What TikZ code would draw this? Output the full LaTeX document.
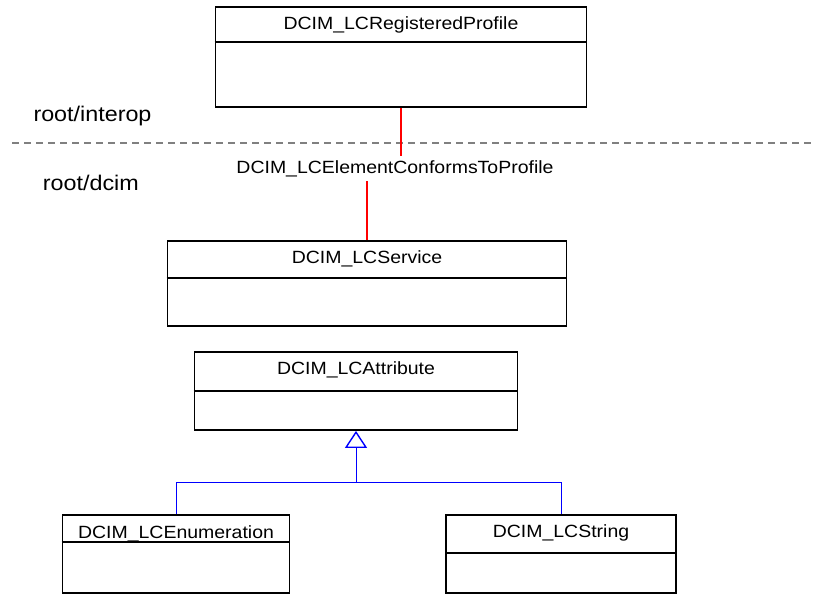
\documentclass[tikz,border=0pt]{standalone}
\usepackage{fontspec}
\setmainfont{Liberation Sans}[FakeStretch=1.1]
\tikzset{>=stealth}
\usetikzlibrary{arrows.meta}
\usetikzlibrary{positioning}

\begin{document}
\begin{tikzpicture}[x=1pt,y=-1pt,
		classbox/.style={draw,line width=1.8pt,inner sep=0pt},
		classname/.style={anchor=base,inner sep=0pt,font=\fontsize{17.7}{21}\selectfont},
		nslabel/.style={anchor=base west,inner sep=0pt,font=\fontsize{21.2}{25}\selectfont},
		assocline/.style={draw=red,line width=2.2pt},
		genline/.style={draw=blue,line width=1pt}]
				\useasboundingbox (0,0) rectangle (816,595);
				% namespaces
				\draw[gray,line width=1.3pt,dash pattern=on 7pt off 5pt] (12,143) -- (816,143);
				\node[nslabel] (interop) at (33.3,121) {root/interop};
				\node[nslabel] (dcim) at (42.7,190.5) {root/dcim};
				% classes
				\node[classbox,minimum width=371pt,minimum height=100pt] (profile) at (401,57) {};
				\draw[line width=1.8pt] (profile.west |- 0,42) -- (profile.east |- 0,42);
				\node[classname] (profile-t) at ([yshift=-23pt]profile.north) {DCIM\_LCRegisteredProfile};
				\node[classbox,minimum width=399pt,minimum height=85pt] (service) at (367,283.5) {};
				\draw[line width=1.8pt] (service.west |- 0,278) -- (service.east |- 0,278);
				\node[classname] (service-t) at ([yshift=-23pt]service.north) {DCIM\_LCService};
				\node[classbox,minimum width=323pt,minimum height=78pt] (attribute) at (356,391) {};
				\draw[line width=1.8pt] (attribute.west |- 0,391) -- (attribute.east |- 0,391);
				\node[classname] (attribute-t) at ([yshift=-23pt]attribute.north) {DCIM\_LCAttribute};
				\node[classbox,minimum width=227pt,minimum height=78pt] (enumeration) at (176,554) {};
				\draw[line width=1.8pt] (enumeration.west |- 0,542) -- (enumeration.east |- 0,542);
				\node[classname] (enumeration-t) at ([yshift=-24pt]enumeration.north) {DCIM\_LCEnumeration};
				\node[classbox,minimum width=230pt,minimum height=78pt] (string) at (561,554) {};
				\draw[line width=1.8pt] (string.west |- 0,553) -- (string.east |- 0,553);
				\node[classname] (string-t) at ([yshift=-23pt]string.north) {DCIM\_LCString};
				% association
				\node[anchor=base,inner sep=4pt,font=\fontsize{17.7}{21}\selectfont] (conforms) at (395,173.5) {DCIM\_LCElementConformsToProfile};
				\draw[assocline] (profile.south) -- (profile.south |- conforms.north);
				\draw[assocline] (service.north) -- (service.north |- conforms.south);
				% generalization
				\coordinate (fork) at (attribute.south |- 0,482);
				\draw[genline] (enumeration.north) |- (fork) -| (string.north);
				\draw[genline,-{Triangle[open,width=22pt,length=17pt,line width=1.4pt]}] (fork) -- (attribute.south);
\end{tikzpicture}
\end{document}
